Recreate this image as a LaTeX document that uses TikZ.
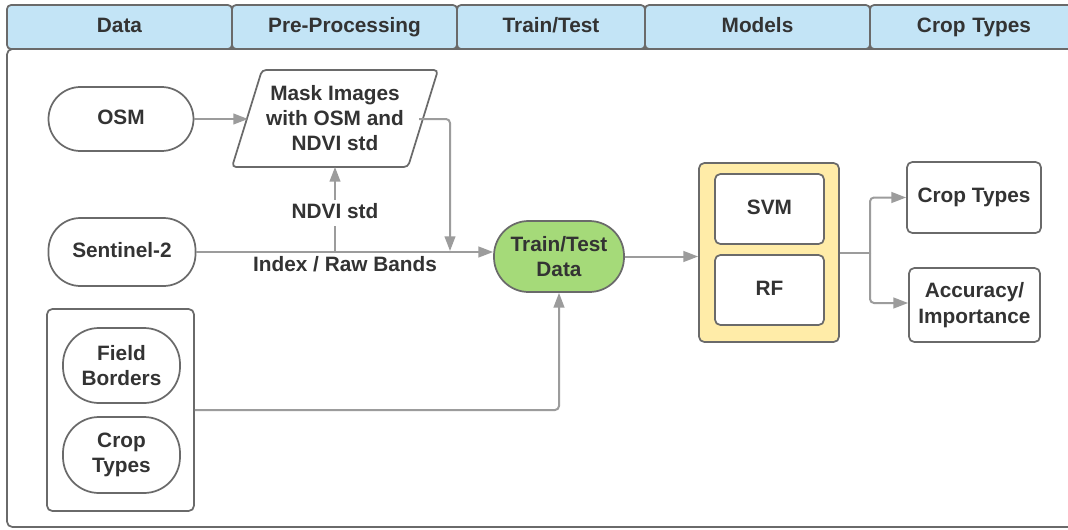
\documentclass[tikz,border=0pt]{standalone}
\usepackage{fontspec}
\setmainfont{Liberation Sans}
\usetikzlibrary{arrows.meta}
\definecolor{hdr}{HTML}{C3E4F6}
\definecolor{bord}{HTML}{6A6A6A}
\definecolor{arr}{HTML}{9C9C9C}
\definecolor{txt}{HTML}{333333}
\definecolor{grn}{HTML}{A5DA79}
\definecolor{ylw}{HTML}{FFECA8}
\begin{document}
\begin{tikzpicture}[x=0.75pt,y=-0.75pt,
  lbl/.style={font=\fontsize{15.6}{19}\selectfont\bfseries, text=txt, align=center},
  one/.style={text height=11pt, text depth=3pt},
  box/.style={lbl, draw=bord, line width=1.3pt, fill=white, rounded corners=4pt, inner sep=0pt},
  pill/.style={box, rounded corners=#1},
  pill/.default=24pt,
  hdrbox/.style={box, one, fill=hdr, rounded corners=3pt},
  sz/.style 2 args={minimum width=#1*0.75pt, minimum height=#2*0.75pt},
  conn/.style={draw=arr, line width=1.5pt, -{Triangle[length=11pt,width=8pt]}, rounded corners=3pt},
  line/.style={draw=arr, line width=1.5pt, rounded corners=3pt}
]
\useasboundingbox (0,0) rectangle (1068,529);
% main pane
\draw[draw=bord, line width=1.3pt, rounded corners=4pt, fill=white] (7,49) rectangle (1090,527);
% header tabs
\node[hdrbox, sz={225}{44}] (h1) at (119.5,27) {Data};
\node[hdrbox, sz={225}{44}] (h2) at (344.5,27) {Pre-Processing};
\node[hdrbox, sz={188}{44}] (h3) at (551,27) {Train/Test};
\node[hdrbox, sz={225}{44}] (h4) at (757.5,27) {Models};
\node[hdrbox, sz={208}{44}, text width=206*0.75pt] (h5) at (974,27) {Crop Types};

% data sources
\node[pill, one, sz={145}{64}] (osm) at (121,119) {OSM};
\node[pill, one, sz={147}{68}] (sen) at (122,252) {Sentinel-2};
\node[box, sz={147}{202}] (grp) at (120.5,410) {};
\node[pill=27pt, sz={117}{75}] (fb) at (121.5,365.5) {Field\\Borders};
\node[pill=27pt, sz={117}{76}] (ct) at (121.5,455) {Crop\\Types};

% mask parallelogram
\draw[draw=bord, line width=1.3pt, fill=white, rounded corners=3pt]
  (262,70) -- (438,70) -- (408,167) -- (232,167) -- cycle;
\node[lbl] (mask) at (335,118) {Mask Images\\with OSM and\\NDVI std};
\coordinate (maskW) at (248,119);
\coordinate (maskE) at (419,119);
\coordinate (maskS) at (335,167);

% train/test
\node[pill=26pt, fill=grn, sz={130}{71}] (tt) at (559,256.5) {Train/Test\\Data};

% models
\node[box, fill=ylw, sz={140}{179}] (mdl) at (769,252.5) {};
\node[box, one, sz={109}{70}] (svm) at (769.5,209) {SVM};
\node[box, one, sz={109}{70}] (rf) at (769.5,290) {RF};

% outputs
\node[box, one, sz={134}{71}] (out1) at (974,197.5) {Crop Types};
\node[box, sz={131}{74}] (out2) at (974.5,305) {Accuracy/\\Importance};

% connectors
\draw[conn] (osm.east) -- (maskW);
\coordinate (join) at (450,251);
\draw[conn] (maskE) -| (join);
\coordinate (senE) at (196,252);
\draw[conn] (senE) -- (tt.west |- senE);
\node[lbl, one] (idx) at (345,266) {Index / Raw Bands};
\coordinate (br) at (335,252);
\draw[conn] (br) -- (maskS);
\node[lbl, one, fill=white, inner sep=3pt] (ndvi) at (335,213) {NDVI std};
\draw[conn] (tt.east) -- (mdl.west |- tt.east);
\coordinate (split) at (870,253);
\draw[line] (mdl.east |- split) -- (split);
\draw[conn] (split) |- (out1.west);
\draw[conn] (split) |- (out2.west |- 0,303);
\draw[conn] (grp.east) -| (tt.south);
\end{tikzpicture}
\end{document}
